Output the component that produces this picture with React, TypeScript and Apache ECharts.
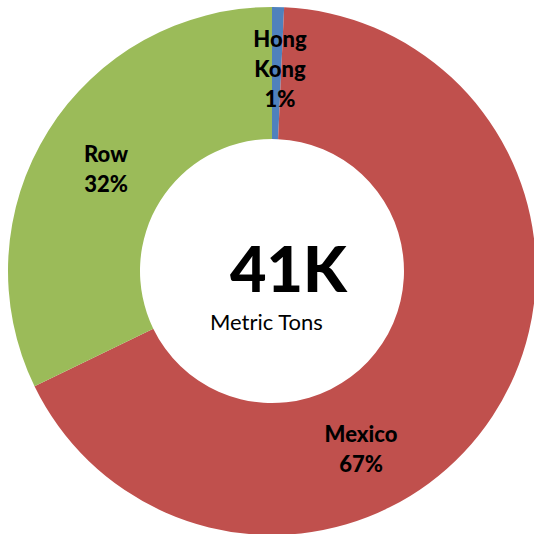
import React, { useEffect, useRef } from "react";
import * as echarts from "echarts";

const categories = ["Hong Kong", "Mexico", "Row"];
const values = [0.3, 27.5, 13.2];
const colors = ["#4F81BD", "#C0504D", "#9BBB59"];
const totalLabel = "41K";
const unitLabel = "Metric Tons";

export default function App() {
  const ref = useRef<HTMLDivElement>(null);
  useEffect(() => {
    if (!ref.current) return;
    const chart = echarts.init(ref.current, null, { renderer: "svg" });
    chart.setOption({
      animation: false,
      backgroundColor: "#ffffff",
      series: [
        {
          type: "pie",
          center: [272, 271],
          radius: [132, 264],
          startAngle: 90,
          clockwise: true,
          avoidLabelOverlap: false,
          percentPrecision: 0,
          label: {
            show: true,
            position: "inside",
            formatter: (p: any) => `${p.name.replace(" ", "\n")}\n${p.percent}%`,
            fontFamily: "Lato",
            fontWeight: 900,
            fontSize: 22,
            lineHeight: 30,
            color: "#000",
          },
          labelLine: { show: false },
          labelLayout: (p: any) => {
            if (p.dataIndex === 1) return { x: 361, y: 448 };
            if (p.dataIndex === 0) return { x: 280, y: 68 };
            return { x: 106, y: 168 };
          },
          emphasis: { disabled: true },
          itemStyle: { borderWidth: 0 },
          data: categories.map((c, i) => ({
            name: c,
            value: values[i],
            itemStyle: { color: colors[i] },
          })),
        },
      ],
      graphic: [
        {
          type: "text",
          left: 230,
          top: 236,
          style: {
            text: totalLabel,
            fontFamily: "Lato",
            fontWeight: 900,
            fontSize: 63,
            fill: "#000",
          },
        },
        {
          type: "text",
          left: 210,
          top: 310,
          style: {
            text: unitLabel,
            fontFamily: "Lato",
            fontSize: 22,
            fill: "#000",
          },
        },
      ],
    });
    return () => chart.dispose();
  }, []);
  return (
    <div
      ref={ref}
      style={{ position: "fixed", left: 0, top: 0, width: 534, height: 534 }}
    />
  );
}
